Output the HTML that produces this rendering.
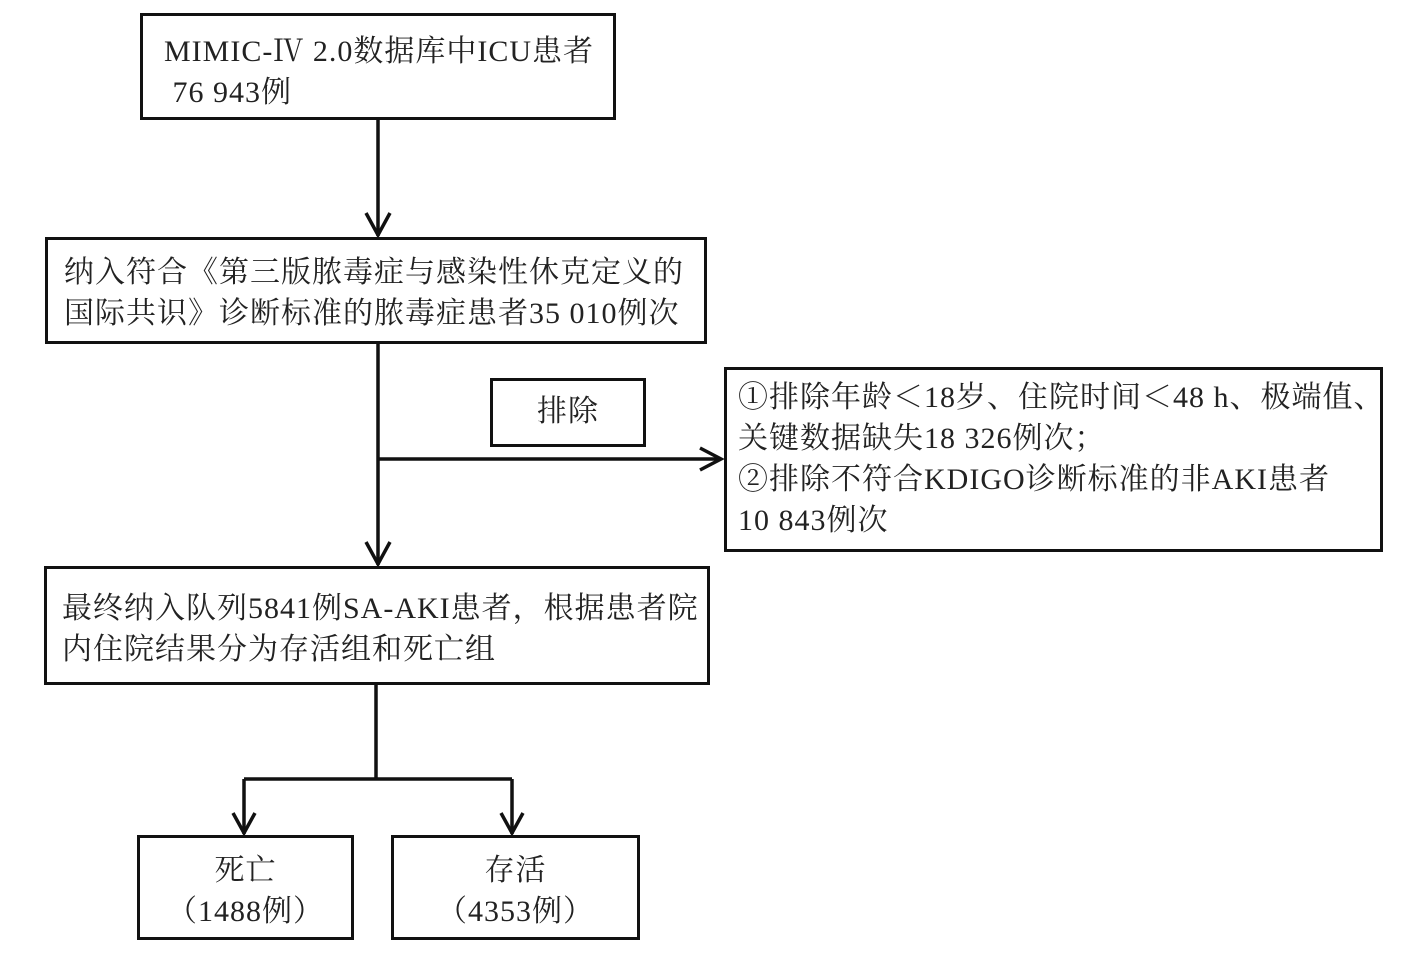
<!DOCTYPE html>
<html><head><meta charset="utf-8"><style>
body{margin:0;width:1418px;height:953px;background:#fff;position:relative;overflow:hidden;font-family:"Liberation Serif","Noto Serif CJK SC","Noto Sans CJK SC",serif;color:#222}
.b{position:absolute;border:3px solid #111;box-sizing:border-box;font-size:30px;letter-spacing:1px;line-height:41px;white-space:nowrap}
svg{position:absolute;left:0;top:0}
</style></head><body>
<svg width="1418" height="953" stroke="#111" stroke-width="3.5" fill="none">
<line x1="378" y1="119" x2="378" y2="236"/><polyline points="366,213 378,235 390,213"/>
<line x1="378" y1="343" x2="378" y2="565"/><polyline points="366,542 378,564 390,542"/>
<line x1="378" y1="459" x2="721" y2="459"/><polyline points="700,448 721,459 700,470"/>
<line x1="376" y1="684" x2="376" y2="779"/>
<line x1="244" y1="779" x2="512" y2="779"/>
<line x1="244" y1="779" x2="244" y2="834"/><polyline points="233,813 244,833 255,813"/>
<line x1="512" y1="779" x2="512" y2="834"/><polyline points="501,813 512,833 523,813"/>
</svg>
<div class="b" style="left:140px;top:13px;width:476px;height:107px;padding:15px 0 0 21px">MIMIC-Ⅳ 2.0数据库中ICU患者<br>&nbsp;76 943例</div>
<div class="b" style="left:45px;top:237px;width:662px;height:107px;padding:12px 0 0 16px">纳入符合《第三版脓毒症与感染性休克定义的<br>国际共识》诊断标准的脓毒症患者35 010例次</div>
<div class="b" style="left:490px;top:378px;width:156px;height:69px;text-align:center;padding-top:10px">排除</div>
<div class="b" style="left:724px;top:367px;width:659px;height:185px;padding:7px 0 0 11px">①排除年龄＜18岁、住院时间＜48 h、极端值、<br>关键数据缺失18 326例次；<br>②排除不符合KDIGO诊断标准的非AKI患者<br>10 843例次</div>
<div class="b" style="left:44px;top:566px;width:666px;height:119px;padding:19px 0 0 15px">最终纳入队列5841例SA-AKI患者，根据患者院<br>内住院结果分为存活组和死亡组</div>
<div class="b" style="left:137px;top:835px;width:217px;height:105px;text-align:center;padding-top:12px">死亡<br>（1488例）</div>
<div class="b" style="left:391px;top:835px;width:249px;height:105px;text-align:center;padding-top:12px">存活<br>（4353例）</div>
</body></html>
